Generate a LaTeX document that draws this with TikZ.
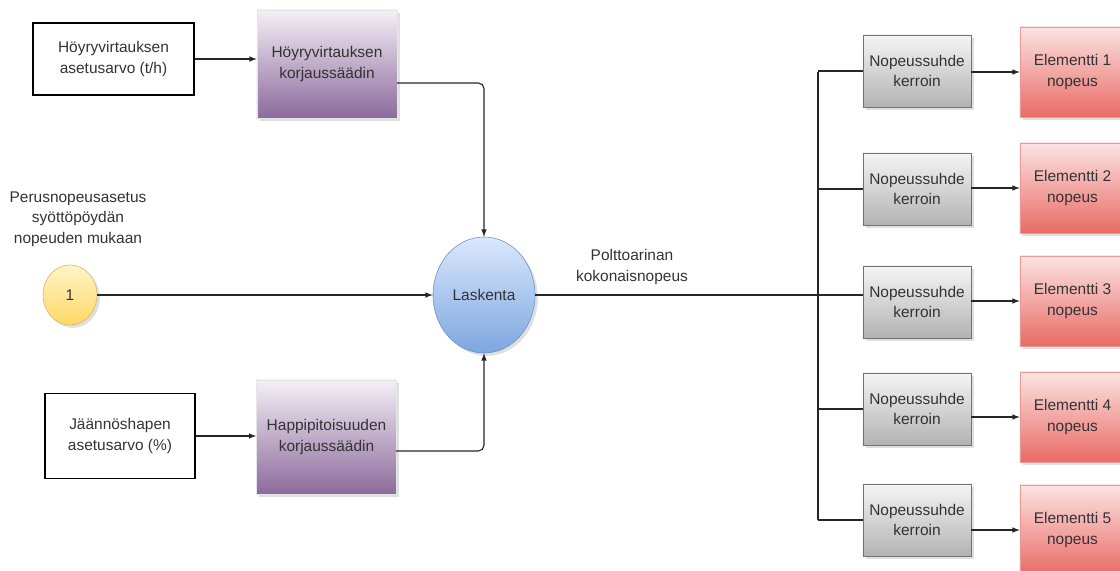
\documentclass[tikz,border=0pt]{standalone}
\usepackage{fontspec}
\setmainfont{Liberation Sans}
\usetikzlibrary{positioning,shapes,shadows}

\definecolor{lilactop}{HTML}{F4EFF6}
\definecolor{lilacmid}{HTML}{C4AFCD}
\definecolor{lilacbot}{HTML}{8C6A9C}
\definecolor{bluetop}{HTML}{DAE8FC}
\definecolor{bluebot}{HTML}{7EA6E0}
\definecolor{blueline}{HTML}{6C8EBF}
\definecolor{yeltop}{HTML}{FFF4C8}
\definecolor{yelbot}{HTML}{FFD966}
\definecolor{yelline}{HTML}{D6B656}
\definecolor{redtop}{HTML}{FBE3E2}
\definecolor{redbot}{HTML}{EA6B66}
\definecolor{redline}{HTML}{E89A96}

\begin{document}
\begin{tikzpicture}[x=0.025cm,y=-0.025cm,
  txt/.style={font=\fontsize{11}{14.5}\selectfont,text=black!80,align=center},
  inbox/.style={txt,draw=black,line width=0.8pt,inner sep=0pt},
  shade/.style={drop shadow={opacity=0.25,shadow xshift=2pt,shadow yshift=-2pt}},
  regbox/.style={txt,shade,draw=black!10,top color=lilactop,middle color=lilacmid,bottom color=lilacbot,inner sep=0pt,minimum width=3.5cm},
  ratiobox/.style={txt,shade,draw=black!55,top color=black!4,bottom color=black!30,inner sep=0pt,minimum width=2.7cm,minimum height=1.8cm},
  elembox/.style={txt,shade,draw=redline,top color=redtop,bottom color=redbot,inner sep=0pt,minimum width=2.625cm,minimum height=2.25cm},
  line/.style={line width=0.8pt,black!85}]

\useasboundingbox (0,0) rectangle (1120,571);

% inputs
\node[inbox,minimum width=4.025cm,minimum height=1.8cm] (steamset) at (113.5,59) {Höyryvirtauksen\\asetusarvo (t/h)};
\node[inbox,minimum width=3.75cm,minimum height=2.125cm] (oxyset) at (120,436) {Jäännöshapen\\asetusarvo (\%)};
\node[txt,shade,ellipse,draw=yelline,top color=yeltop,bottom color=yelbot,minimum width=1.35cm,minimum height=1.5cm,inner sep=0pt] (base) at (70,295) {1};
\node[txt] (baselabel) at (78,219) {Perusnopeusasetus\\syöttöpöydän\\nopeuden mukaan};

% controllers
\node[regbox,minimum height=2.7cm] (steamreg) at (327,64) {Höyryvirtauksen\\korjaussäädin};
\node[regbox,minimum height=2.85cm] (oxyreg) at (326.5,437) {Happipitoisuuden\\korjaussäädin};

\node[txt,shade,ellipse,draw=blueline,top color=bluetop,bottom color=bluebot,minimum width=2.55cm,minimum height=2.9cm,inner sep=0pt] (calc) at (484,295) {Laskenta};
\node[txt] (totallabel) at (632,267) {Polttoarinan\\kokonaisnopeus};

\draw[line,-latex] (steamset.east) -- (steamset.east -| steamreg.west);
\draw[line,-latex] (oxyset.east) -- (oxyset.east -| oxyreg.west);
\draw[line,-latex] (base.east) -- (calc.west);

\coordinate (steamout) at (397,83);
\coordinate (oxyout) at (396,451);
\draw[line,-latex,rounded corners=4pt] (steamout) -| (calc.north);
\draw[line,-latex,rounded corners=4pt] (oxyout) -| (calc.south);

% elements
\foreach \i/\gy/\ey in {1/71/72, 2/189/188, 3/302/301, 4/409/417, 5/520/530} {
    \node[ratiobox] (ratio\i) at (917,\gy) {Nopeussuhde\\kerroin};
    \node[elembox] (elem\i) at (1072.5,\ey) {Elementti \i\\nopeus};
    \draw[line,-latex] (ratio\i.east |- elem\i.west) -- (elem\i.west);
}

\coordinate (bustop) at (818,72);
\coordinate (busbot) at (818,520);
\draw[line] (bustop) -- (busbot);
\draw[line] (calc.east) -- (calc.east -| ratio3.west);
\foreach \i in {1,2,4,5} {
    \draw[line] (ratio\i.west) -- (ratio\i.west -| bustop);
}
\end{tikzpicture}
\end{document}
